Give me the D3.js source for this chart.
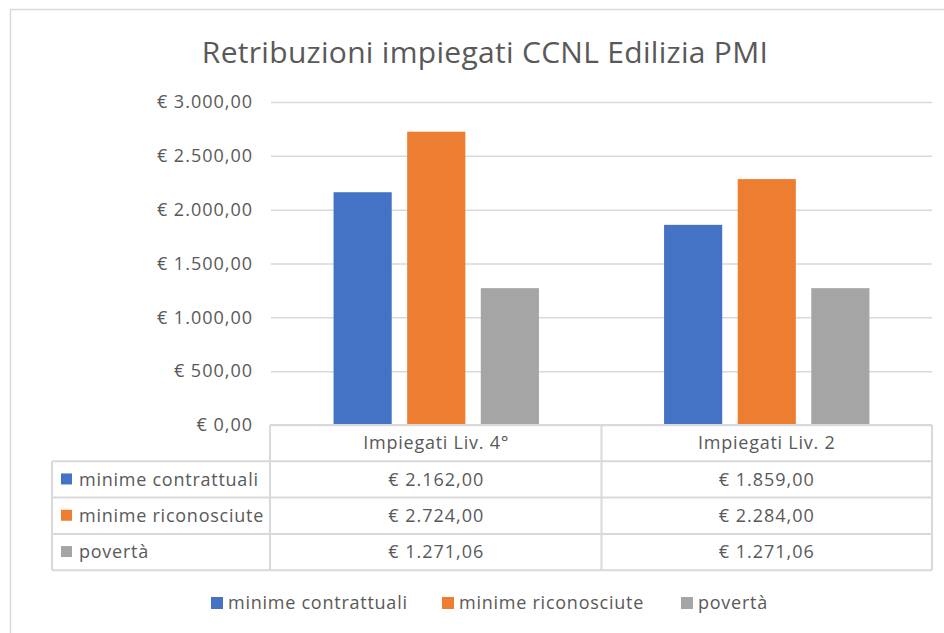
<!DOCTYPE html>
<html>
<head>
<meta charset="utf-8">
<script src="https://cdn.jsdelivr.net/npm/d3@7"></script>
<style>
  body { margin: 0; background: #fff; }
  text { font-family: "Open Sans", "Noto Sans", sans-serif; fill: #595959; letter-spacing: 1px; }
  text.lbl { letter-spacing: 0.75px; }
</style>
</head>
<body>
<svg id="chart"></svg>
<script>
// Data
const categories = ["Impiegati Liv. 4°", "Impiegati Liv. 2"];
const seriesNames = ["minime contrattuali", "minime riconosciute", "povertà"];
const seriesColors = ["#4472c4", "#ed7d31", "#a5a5a5"];
const minimeContrattuali = [2162.00, 1859.00];
const minimeRiconosciute = [2724.00, 2284.00];
const poverta = [1271.06, 1271.06];
const yTicks = [0, 500, 1000, 1500, 2000, 2500, 3000];

const seriesValues = [minimeContrattuali, minimeRiconosciute, poverta];

const width = 944, height = 633;
const plot = { left: 271, right: 932, top: 102, bottom: 425 };
const rowH = 36.3;
const tableLeft = 52;
const fontSize = "18px";

// euro format with Italian separators
const fmt = v => {
    const parts = v.toFixed(2).split(".");
    parts[0] = parts[0].replace(/\B(?=(\d{3})+(?!\d))/g, ".");
    return "€ " + parts[0] + "," + parts[1];
};

const svg = d3.select("#chart")
    .attr("width", width)
    .attr("height", height);

// outer frame
svg.append("rect")
    .attr("x", 10.5).attr("y", 9.5)
    .attr("width", 960).attr("height", 660)
    .attr("fill", "none")
    .attr("stroke", "#d9d9d9")
    .attr("stroke-width", 1.5);

// Title
svg.append("text")
    .attr("x", 485)
    .attr("y", 63)
    .attr("text-anchor", "middle")
    .style("font-size", "30px")
    .style("letter-spacing", "0.3px")
    .text("Retribuzioni impiegati CCNL Edilizia PMI");

// Scales
const y = d3.scaleLinear()
    .domain([0, 3000])
    .range([plot.bottom, plot.top]);

const x0 = d3.scaleBand()
    .domain(categories)
    .range([plot.left, plot.right]);

const x1 = d3.scaleBand()
    .domain(seriesNames)
    .range([0, x0.bandwidth()])
    .paddingInner(0.21)
    .paddingOuter(0.85);

// Gridlines + y labels
const yAxis = svg.append("g")
    .attr("transform", `translate(${plot.left},0)`)
    .call(d3.axisLeft(y).tickValues(yTicks).tickFormat(fmt)
        .tickSize(-(plot.right - plot.left)).tickPadding(18));
yAxis.select(".domain").remove();
yAxis.selectAll(".tick line")
    .attr("stroke", "#d9d9d9")
    .attr("stroke-width", 1.5);
yAxis.selectAll(".tick text")
    .attr("fill", "#595959")
    .style("font-family", "\"Open Sans\", sans-serif")
    .style("font-size", fontSize);

// Bars
categories.forEach((c, ci) => {
    svg.append("g")
        .selectAll("rect")
        .data(seriesNames)
        .enter()
        .append("rect")
        .attr("x", s => x0(c) + x1(s))
        .attr("width", x1.bandwidth())
        .attr("y", (s, si) => y(seriesValues[si][ci]))
        .attr("height", (s, si) => plot.bottom - y(seriesValues[si][ci]))
        .attr("fill", (s, si) => seriesColors[si]);
});

// Data table
const table = svg.append("g");
const lineColor = "#d9d9d9";
const tableBottom = plot.bottom + rowH * 4;

function hline(x1p, x2p, yp) {
    table.append("line")
        .attr("x1", x1p).attr("x2", x2p)
        .attr("y1", yp).attr("y2", yp)
        .attr("stroke", lineColor).attr("stroke-width", 2);
}
function vline(xp, y1p, y2p) {
    table.append("line")
        .attr("x1", xp).attr("x2", xp)
        .attr("y1", y1p).attr("y2", y2p)
        .attr("stroke", lineColor).attr("stroke-width", 2);
}

hline(plot.left - 1, plot.right, plot.bottom);
for (let r = 1; r <= 4; r++) hline(tableLeft, plot.right, plot.bottom + rowH * r);
vline(tableLeft, plot.bottom + rowH, tableBottom);
vline(plot.left - 1, plot.bottom, tableBottom);
categories.forEach(c => vline(x0(c) + x0.bandwidth(), plot.bottom, tableBottom));

// header row
table.selectAll(".hdr")
    .data(categories)
    .enter()
    .append("text")
    .attr("class", "lbl")
    .attr("x", c => x0(c) + x0.bandwidth() / 2)
    .attr("y", plot.bottom + rowH / 2)
    .attr("dy", "0.35em")
    .attr("text-anchor", "middle")
    .style("font-size", fontSize)
    .text(c => c);

// series rows
seriesNames.forEach((s, si) => {
    const cy = plot.bottom + rowH * (si + 1) + rowH / 2;
    table.append("rect")
        .attr("x", 61).attr("y", cy - 6)
        .attr("width", 11).attr("height", 11)
        .attr("fill", seriesColors[si]);
    table.append("text")
        .attr("class", "lbl")
        .attr("x", 79).attr("y", cy)
        .attr("dy", "0.35em")
        .style("font-size", fontSize)
        .text(s);
    categories.forEach((c, ci) => {
        table.append("text")
            .attr("x", x0(c) + x0.bandwidth() / 2)
            .attr("y", cy)
            .attr("dy", "0.35em")
            .attr("text-anchor", "middle")
            .style("font-size", fontSize)
            .text(fmt(seriesValues[si][ci]));
    });
});

// Legend
const legendX = [211, 442, 681];
const legend = svg.append("g");
seriesNames.forEach((s, si) => {
    legend.append("rect")
        .attr("x", legendX[si]).attr("y", 597)
        .attr("width", 12).attr("height", 12)
        .attr("fill", seriesColors[si]);
    legend.append("text")
        .attr("class", "lbl")
        .attr("x", legendX[si] + 17).attr("y", 603)
        .attr("dy", "0.35em")
        .style("font-size", fontSize)
        .text(s);
});
</script>
</body>
</html>
